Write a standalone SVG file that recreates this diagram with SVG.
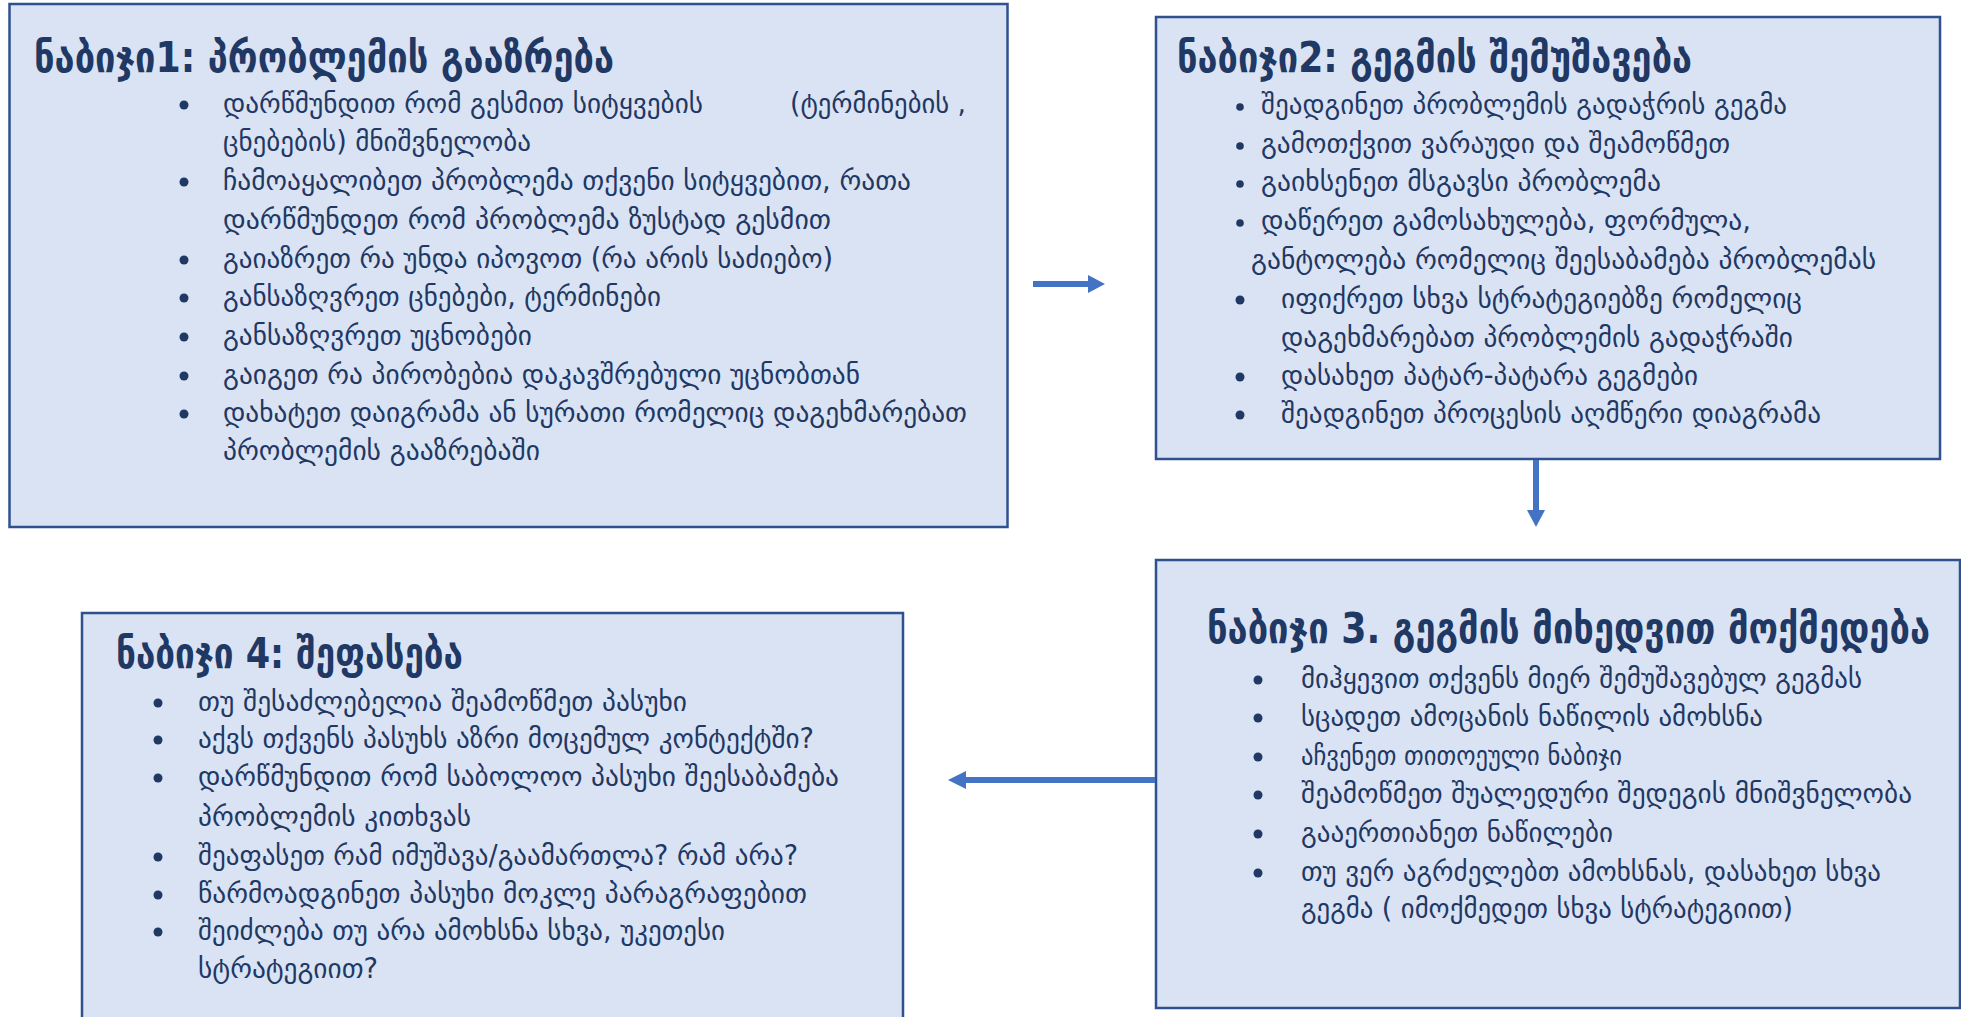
<svg xmlns="http://www.w3.org/2000/svg" width="1961" height="1017" viewBox="0 0 1961 1017">
<style>
.box{fill:#DAE3F3;stroke:#2F528F;stroke-width:2.5}
.t{font-family:"DejaVu Sans Condensed","DejaVu Sans",sans-serif;fill:#1F3864}
.h{font-size:42px;font-weight:bold}
.b{font-size:28px}
.dot{fill:#1F3864}
.arr{stroke:#4472C4;stroke-width:6;fill:none}
.head{fill:#4472C4}
</style>
<rect x="0" y="0" width="1961" height="1017" fill="#FFFFFF"/>
<g id="step1">
<rect class="box" x="9.5" y="4" width="998" height="523"/>
<text class="t h" x="34" y="72" textLength="580" lengthAdjust="spacingAndGlyphs">ნაბიჯი1: პრობლემის გააზრება</text>
<circle class="dot" cx="184" cy="105" r="4.5"/>
<text class="t b" x="223" y="113" textLength="480" lengthAdjust="spacingAndGlyphs">დარწმუნდით რომ გესმით სიტყვების</text>
<text class="t b" x="790" y="113" textLength="176" lengthAdjust="spacingAndGlyphs">(ტერმინების ,</text>
<text class="t b" x="223" y="151" textLength="308" lengthAdjust="spacingAndGlyphs">ცნებების) მნიშვნელობა</text>
<circle class="dot" cx="184" cy="182" r="4.5"/>
<text class="t b" x="223" y="190" textLength="688" lengthAdjust="spacingAndGlyphs">ჩამოაყალიბეთ პრობლემა თქვენი სიტყვებით, რათა</text>
<text class="t b" x="223" y="229" textLength="608" lengthAdjust="spacingAndGlyphs">დარწმუნდეთ  რომ პრობლემა ზუსტად გესმით</text>
<circle class="dot" cx="184" cy="260" r="4.5"/>
<text class="t b" x="223" y="268" textLength="610" lengthAdjust="spacingAndGlyphs">გაიაზრეთ რა უნდა იპოვოთ (რა არის საძიებო)</text>
<circle class="dot" cx="184" cy="298" r="4.5"/>
<text class="t b" x="223" y="306" textLength="438" lengthAdjust="spacingAndGlyphs">განსაზღვრეთ ცნებები, ტერმინები</text>
<circle class="dot" cx="184" cy="337" r="4.5"/>
<text class="t b" x="223" y="345" textLength="309" lengthAdjust="spacingAndGlyphs">განსაზღვრეთ უცნობები</text>
<circle class="dot" cx="184" cy="376" r="4.5"/>
<text class="t b" x="223" y="384" textLength="637" lengthAdjust="spacingAndGlyphs">გაიგეთ რა პირობებია დაკავშრებული უცნობთან</text>
<circle class="dot" cx="184" cy="414" r="4.5"/>
<text class="t b" x="223" y="422" textLength="744" lengthAdjust="spacingAndGlyphs">დახატეთ დაიგრამა ან სურათი რომელიც დაგეხმარებათ</text>
<text class="t b" x="223" y="460" textLength="317" lengthAdjust="spacingAndGlyphs">პრობლემის გააზრებაში</text>
</g>
<g id="step2">
<rect class="box" x="1156" y="17" width="784" height="442"/>
<text class="t h" x="1177" y="72" textLength="515" lengthAdjust="spacingAndGlyphs">ნაბიჯი2:  გეგმის შემუშავება</text>
<circle class="dot" cx="1240" cy="107" r="3.8"/>
<text class="t b" x="1261" y="114" textLength="526" lengthAdjust="spacingAndGlyphs">შეადგინეთ პრობლემის გადაჭრის გეგმა</text>
<circle class="dot" cx="1240" cy="146" r="3.8"/>
<text class="t b" x="1261" y="153" textLength="469" lengthAdjust="spacingAndGlyphs">გამოთქვით ვარაუდი და შეამოწმეთ</text>
<circle class="dot" cx="1240" cy="184" r="3.8"/>
<text class="t b" x="1261" y="191" textLength="400" lengthAdjust="spacingAndGlyphs">გაიხსენეთ  მსგავსი პრობლემა</text>
<circle class="dot" cx="1240" cy="223" r="3.8"/>
<text class="t b" x="1261" y="230" textLength="490" lengthAdjust="spacingAndGlyphs">დაწერეთ გამოსახულება, ფორმულა,</text>
<text class="t b" x="1251" y="269" textLength="625" lengthAdjust="spacingAndGlyphs">განტოლება რომელიც შეესაბამება პრობლემას</text>
<circle class="dot" cx="1240" cy="300" r="4.5"/>
<text class="t b" x="1281" y="308" textLength="521" lengthAdjust="spacingAndGlyphs">იფიქრეთ სხვა სტრატეგიებზე რომელიც</text>
<text class="t b" x="1281" y="347" textLength="512" lengthAdjust="spacingAndGlyphs">დაგეხმარებათ პრობლემის გადაჭრაში</text>
<circle class="dot" cx="1240" cy="377" r="4.5"/>
<text class="t b" x="1281" y="385" textLength="417" lengthAdjust="spacingAndGlyphs">დასახეთ პატარ-პატარა გეგმები</text>
<circle class="dot" cx="1240" cy="415" r="4.5"/>
<text class="t b" x="1281" y="423" textLength="540" lengthAdjust="spacingAndGlyphs">შეადგინეთ პროცესის აღმწერი დიაგრამა</text>
</g>
<g id="step3">
<rect class="box" x="1156" y="560" width="804" height="448"/>
<text class="t h" x="1207" y="643" textLength="723" lengthAdjust="spacingAndGlyphs">ნაბიჯი  3. გეგმის მიხედვით მოქმედება</text>
<circle class="dot" cx="1258" cy="680" r="4.5"/>
<text class="t b" x="1301" y="688" textLength="561" lengthAdjust="spacingAndGlyphs">მიჰყევით თქვენს მიერ შემუშავებულ გეგმას</text>
<circle class="dot" cx="1258" cy="718" r="4.5"/>
<text class="t b" x="1301" y="726" textLength="462" lengthAdjust="spacingAndGlyphs">სცადეთ ამოცანის ნაწილის ამოხსნა</text>
<circle class="dot" cx="1258" cy="757" r="4.5"/>
<text class="t b" x="1301" y="765" textLength="321" lengthAdjust="spacingAndGlyphs">აჩვენეთ თითოეული ნაბიჯი</text>
<circle class="dot" cx="1258" cy="795" r="4.5"/>
<text class="t b" x="1301" y="803" textLength="611" lengthAdjust="spacingAndGlyphs">შეამოწმეთ შუალედური შედეგის მნიშვნელობა</text>
<circle class="dot" cx="1258" cy="834" r="4.5"/>
<text class="t b" x="1301" y="842" textLength="312" lengthAdjust="spacingAndGlyphs">გააერთიანეთ ნაწილები</text>
<circle class="dot" cx="1258" cy="873" r="4.5"/>
<text class="t b" x="1301" y="881" textLength="580" lengthAdjust="spacingAndGlyphs">თუ ვერ აგრძელებთ ამოხსნას, დასახეთ სხვა</text>
<text class="t b" x="1301" y="918" textLength="492" lengthAdjust="spacingAndGlyphs">გეგმა ( იმოქმედეთ სხვა სტრატეგიით)</text>
</g>
<g id="step4">
<rect class="box" x="82" y="613" width="821" height="420"/>
<text class="t h" x="116" y="668" textLength="347" lengthAdjust="spacingAndGlyphs">ნაბიჯი 4: შეფასება</text>
<circle class="dot" cx="158" cy="703" r="4.5"/>
<text class="t b" x="198" y="711" textLength="489" lengthAdjust="spacingAndGlyphs">თუ შესაძლებელია შეამოწმეთ პასუხი</text>
<circle class="dot" cx="158" cy="740" r="4.5"/>
<text class="t b" x="198" y="748" textLength="616" lengthAdjust="spacingAndGlyphs">აქვს თქვენს პასუხს აზრი მოცემულ კონტექტში?</text>
<circle class="dot" cx="158" cy="778" r="4.5"/>
<text class="t b" x="198" y="786" textLength="641" lengthAdjust="spacingAndGlyphs">დარწმუნდით რომ საბოლოო პასუხი შეესაბამება</text>
<text class="t b" x="198" y="826" textLength="273" lengthAdjust="spacingAndGlyphs">პრობლემის კითხვას</text>
<circle class="dot" cx="158" cy="857" r="4.5"/>
<text class="t b" x="198" y="865" textLength="600" lengthAdjust="spacingAndGlyphs">შეაფასეთ რამ იმუშავა/გაამართლა? რამ არა?</text>
<circle class="dot" cx="158" cy="895" r="4.5"/>
<text class="t b" x="198" y="903" textLength="609" lengthAdjust="spacingAndGlyphs">წარმოადგინეთ პასუხი მოკლე პარაგრაფებით</text>
<circle class="dot" cx="158" cy="932" r="4.5"/>
<text class="t b" x="198" y="940" textLength="527" lengthAdjust="spacingAndGlyphs">შეიძლება თუ არა ამოხსნა სხვა, უკეთესი</text>
<text class="t b" x="198" y="978" textLength="180" lengthAdjust="spacingAndGlyphs">სტრატეგიით?</text>
</g>
<g id="connectors">
<line class="arr" x1="1033" y1="284" x2="1090" y2="284"/>
<polygon class="head" points="1088,275 1105,284 1088,293"/>
<line class="arr" x1="1536" y1="460" x2="1536" y2="512"/>
<polygon class="head" points="1527,510 1545,510 1536,527"/>
<line class="arr" x1="1155" y1="780" x2="964" y2="780"/>
<polygon class="head" points="966,771 948,780 966,789"/>
</g>
</svg>
